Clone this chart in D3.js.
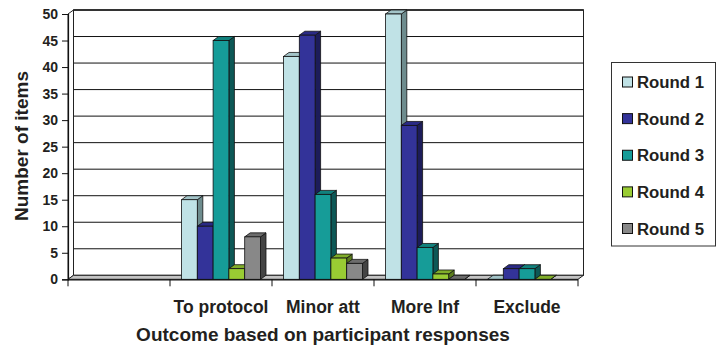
<!DOCTYPE html>
<html>
<head>
<meta charset="utf-8">
<script src="https://cdn.jsdelivr.net/npm/d3@7"></script>
<style>
  html, body { margin: 0; padding: 0; background: #fff; }
  svg { display: block; }
  text { font-family: "Liberation Sans", Arial, sans-serif; font-weight: bold; fill: #231f20; }
</style>
</head>
<body>
<svg id="chart" width="717" height="348"></svg>
<script>
// Outcome categories (the first slot carries no label and no bars)
const categories = ["", "To protocol", "Minor att", "More Inf", "Exclude"];
const seriesNames = ["Round 1", "Round 2", "Round 3", "Round 4", "Round 5"];
const round1 = [null, 15, 42, 50, 0];
const round2 = [null, 10, 46, 29, 2];
const round3 = [null, 45, 16, 6, 2];
const round4 = [null, 2, 4, 1, 0];
const round5 = [null, 8, 3, 0, null];
const yTicks = [0, 5, 10, 15, 20, 25, 30, 35, 40, 45, 50];

const seriesValues = [round1, round2, round3, round4, round5];
const faceColors = [
  { front: "#c0e2e6", top: "#a3c4c8", side: "#6e8c8e" },
  { front: "#333399", top: "#2a2a85", side: "#1c1c5a" },
  { front: "#169c98", top: "#11817d", side: "#0d5856" },
  { front: "#99cc33", top: "#80ad2a", side: "#5b7d1d" },
  { front: "#888888", top: "#6c6c6c", side: "#444444" }
];

const svg = d3.select("#chart");

// front plane of the 3D plot and the depth offset of the back wall
const plotLeft = 68, plotRight = 578, plotBottom = 279.3, plotTop = 14;
const DX = 5.5, DY = -4;

const x0 = d3.scaleBand().domain(categories).range([plotLeft, plotRight]).padding(0);
const x1 = d3.scaleBand().domain(seriesNames).range([11.5, x0.bandwidth() - 11.5]).padding(0);
const y = d3.scaleLinear().domain([0, 50]).range([plotBottom, plotTop]);

const g = svg.append("g");

// back wall
g.append("rect")
  .attr("x", plotLeft + DX).attr("y", y(50) + DY)
  .attr("width", plotRight - plotLeft).attr("height", y(0) - y(50))
  .attr("fill", "#fff").attr("stroke", "#222").attr("stroke-width", 1);

// gridlines on the back wall
g.selectAll("line.grid").data(yTicks.slice(1)).join("line")
  .attr("class", "grid")
  .attr("x1", plotLeft + DX).attr("x2", plotRight + DX)
  .attr("y1", d => y(d) + DY).attr("y2", d => y(d) + DY)
  .attr("stroke", "#111").attr("stroke-width", 1);

// heavier top edge of the wall
g.append("line")
  .attr("x1", plotLeft + DX).attr("x2", plotRight + DX)
  .attr("y1", y(50) + DY).attr("y2", y(50) + DY)
  .attr("stroke", "#333").attr("stroke-width", 2);

// left side wall
g.append("path")
  .attr("d", `M${plotLeft},${y(50)} L${plotLeft + DX},${y(50) + DY} L${plotLeft + DX},${y(0) + DY} L${plotLeft},${y(0)} Z`)
  .attr("fill", "#fff").attr("stroke", "#222").attr("stroke-width", 1);

// floor
g.append("path")
  .attr("d", `M${plotLeft},${y(0)} L${plotLeft + DX},${y(0) + DY} L${plotRight + DX},${y(0) + DY} L${plotRight},${y(0)} Z`)
  .attr("fill", "#c4c4c4").attr("stroke", "#222").attr("stroke-width", 1);

// 3D columns
const bars = [];
categories.forEach((c, ci) => {
  seriesNames.forEach((s, si) => {
    const v = seriesValues[si][ci];
    if (v === null) return;
    bars.push({ c, s, si, v });
  });
});

const barG = g.selectAll("g.bar").data(bars).join("g").attr("class", "bar");
barG.each(function(d) {
  const el = d3.select(this);
  const bx = x0(d.c) + x1(d.s);
  const w = x1.bandwidth();
  const yt = y(d.v), yb = y(0);
  const col = faceColors[d.si];
  // side face
  el.append("path")
    .attr("d", `M${bx + w},${yt} L${bx + w + DX},${yt + DY} L${bx + w + DX},${yb + DY} L${bx + w},${yb} Z`)
    .attr("fill", col.side).attr("stroke", "#111").attr("stroke-width", 0.8);
  // top face
  el.append("path")
    .attr("d", `M${bx},${yt} L${bx + DX},${yt + DY} L${bx + w + DX},${yt + DY} L${bx + w},${yt} Z`)
    .attr("fill", col.top).attr("stroke", "#111").attr("stroke-width", 0.8);
  // front face
  if (d.v > 0) {
    el.append("rect")
      .attr("x", bx).attr("y", yt).attr("width", w).attr("height", yb - yt)
      .attr("fill", col.front).attr("stroke", "#111").attr("stroke-width", 0.8);
  }
});

// y axis on the front plane
const yAxis = d3.axisLeft(y).tickValues(yTicks).tickSize(6).tickPadding(4);
const yAxisG = svg.append("g").attr("transform", `translate(${plotLeft},0)`).call(yAxis);
yAxisG.select(".domain").attr("stroke", "#111").attr("stroke-width", 1.2);
yAxisG.selectAll(".tick line").attr("stroke", "#111");
yAxisG.selectAll(".tick text")
  .attr("font-size", 14).attr("font-family", "Liberation Sans, Arial, sans-serif")
  .attr("font-weight", "bold").attr("fill", "#231f20");

// x axis on the front plane, ticks at the category boundaries
const xAxisG = svg.append("g").attr("transform", `translate(0,${plotBottom})`);
xAxisG.append("line").attr("x1", plotLeft).attr("x2", plotRight).attr("y1", 0.5).attr("y2", 0.5)
  .attr("stroke", "#111").attr("stroke-width", 1.2);
const boundaries = categories.map(c => x0(c)).concat([plotRight]);
xAxisG.selectAll("line.tick").data(boundaries).join("line")
  .attr("class", "tick")
  .attr("x1", d => d).attr("x2", d => d).attr("y1", 0).attr("y2", 7)
  .attr("stroke", "#111").attr("stroke-width", 1);
xAxisG.selectAll("text.cat").data(categories).join("text")
  .attr("class", "cat")
  .attr("x", d => x0(d) + x0.bandwidth() / 2).attr("y", 34)
  .attr("text-anchor", "middle").attr("font-size", 17.5)
  .text(d => d);

// axis titles
svg.append("text")
  .attr("x", (plotLeft + plotRight) / 2).attr("y", 341)
  .attr("text-anchor", "middle").attr("font-size", 19)
  .text("Outcome based on participant responses");
svg.append("text")
  .attr("transform", "translate(28,146) rotate(-90)")
  .attr("text-anchor", "middle").attr("font-size", 19)
  .text("Number of items");

// legend
const legend = svg.append("g");
legend.append("rect")
  .attr("x", 611.5).attr("y", 62.5).attr("width", 104).attr("height", 183.5)
  .attr("fill", "#fff").attr("stroke", "#333").attr("stroke-width", 1);
const legendY = d3.scalePoint().domain(seriesNames).range([82, 228.5]);
const item = legend.selectAll("g.item").data(seriesNames).join("g")
  .attr("class", "item")
  .attr("transform", d => `translate(0,${legendY(d)})`);
item.append("rect")
  .attr("x", 622.5).attr("y", -5).attr("width", 10).attr("height", 10)
  .attr("fill", (d, i) => faceColors[i].front).attr("stroke", "#111").attr("stroke-width", 1);
item.append("text")
  .attr("x", 637).attr("y", 6).attr("font-size", 16.8)
  .text(d => d);
</script>
</body>
</html>
